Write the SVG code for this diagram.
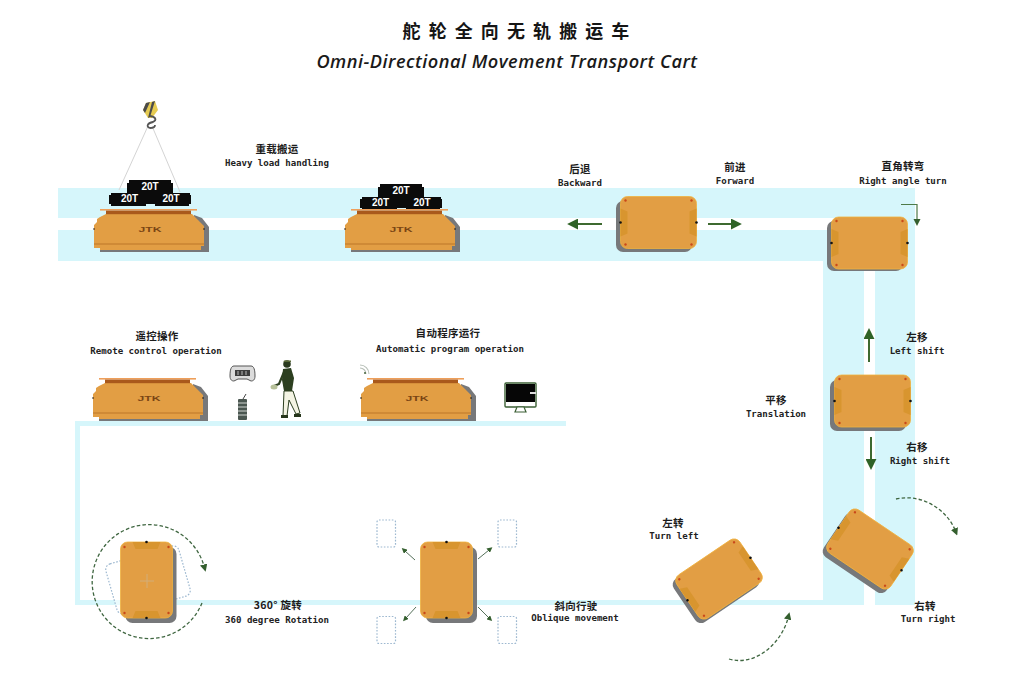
<svg xmlns="http://www.w3.org/2000/svg" xmlns:xlink="http://www.w3.org/1999/xlink" width="1024" height="683" viewBox="0 0 1024 683">
<style>
  .track { fill: #d6f6fb; }
  .cn { font-family: "Noto Sans CJK SC", sans-serif; font-size: 10.5px; font-weight: 700; fill: #1c1c1c; text-anchor: middle; letter-spacing: 0.3px; }
  .en { font-family: "DejaVu Sans Mono", monospace; font-size: 9.1px; font-weight: 700; fill: #222; text-anchor: middle; }
  .ton { font-family: "Liberation Sans", sans-serif; font-size: 10px; font-weight: 700; fill: #fff; text-anchor: middle; }
  .logo { font-family: "Liberation Sans", sans-serif; font-size: 7.5px; font-weight: 700; fill: #7a4514; text-anchor: middle; }
  .shadow { fill: #77787a; }
  .body { fill: #e29e44; stroke: #f0b23f; stroke-width: 0.8; }
  .pad { fill: #d8952f; }
  .stud { fill: #c9481a; }
  .pin { fill: #111; }
  .ghost { fill: #fff; fill-opacity: 0.5; stroke: #9db8d0; stroke-width: 1.2; stroke-dasharray: 1.6 1.6; }
  .push { stroke: #3e6a30; stroke-width: 2; fill: none; }
  .thin { stroke: #4e7a48; stroke-width: 1.2; fill: none; }
  .slant { stroke: #55705a; stroke-width: 1; fill: none; }
  .swing { stroke: #3f6640; stroke-width: 1.3; stroke-dasharray: 3.5 2.2; fill: none; }
  .title { font-family: "Noto Sans CJK SC", sans-serif; font-size: 18px; font-weight: 700; fill: #151515; text-anchor: middle; letter-spacing: 8.1px; }
  .subtitle { font-family: "Open Sans", sans-serif; font-size: 18.2px; font-weight: 600; font-style: italic; fill: #1a1a1a; text-anchor: middle; letter-spacing: 0.5px; }
</style>
<defs>
  <marker id="head-big" viewBox="0 0 10 10" refX="1" refY="5" markerUnits="userSpaceOnUse" markerWidth="11" markerHeight="11" orient="auto">
    <path d="M0 0L10 5L0 10Z" fill="#2f6226"/>
  </marker>
  <marker id="head-small" viewBox="0 0 10 10" refX="2" refY="5" markerUnits="userSpaceOnUse" markerWidth="7.5" markerHeight="7.5" orient="auto">
    <path d="M0 0L10 5L0 10Z" fill="#345f2e"/>
  </marker>
  <marker id="head-tiny" viewBox="0 0 10 10" refX="2" refY="5" markerUnits="userSpaceOnUse" markerWidth="5.5" markerHeight="5.5" orient="auto">
    <path d="M0 0L10 5L0 10Z" fill="#345f2e"/>
  </marker>

  <!-- cart seen from above, centred on the origin, long side horizontal -->
  <g id="cart-plan">
    <rect class="body" x="-38" y="-26" width="76" height="52" rx="7"/>
    <path class="pad" d="M-38 -14L-31 -11V11L-38 14Z"/>
    <path class="pad" d="M38 -14L31 -11V11L38 14Z"/>
    <circle class="stud" cx="-33" cy="-22" r="1.2"/>
    <circle class="stud" cx="33" cy="-22" r="1.2"/>
    <circle class="stud" cx="-33" cy="22" r="1.2"/>
    <circle class="stud" cx="33" cy="22" r="1.2"/>
    <circle class="pin" cx="-38" cy="0" r="1.3"/>
    <circle class="pin" cx="38" cy="0" r="1.3"/>
  </g>

  <!-- cart seen from the side, origin at the left end of the deck -->
  <g id="cart-side">
    <path class="shadow" d="M100 6L108 9L115 18V43H6V39H100Z"/>
    <path fill="#e29e44" d="M12 5H98L104 11L110 17V37H107V41H6V39H0V36H3V34H0V16L3 13V10L6 8Z"/>
    <rect x="0" y="34" width="110" height="2" fill="#cf8a36"/>
    <rect x="6" y="0" width="97" height="1.6" fill="#ee9f5a"/>
    <rect x="12" y="1.6" width="85" height="3.6" fill="#a9591c"/>
    <circle class="pin" cx="0" cy="20" r="0.8"/>
    <circle class="pin" cx="110" cy="20" r="0.8"/>
    <text class="logo" x="56" y="23" textLength="23" lengthAdjust="spacingAndGlyphs">JTK</text>
  </g>

  <!-- stacked 20 tonne load, origin at the top-left of the lower row -->
  <g id="load">
    <path fill="#0b0b0b" d="M20 0H62V3H64V13H81V15H82V24H80V26H46V24H37V26H2V24H0V15H2V13H18V3H20Z"/>
    <text class="ton" x="41" y="10">20T</text>
    <text class="ton" x="20.500" y="22">20T</text>
    <text class="ton" x="62" y="22">20T</text>
  </g>
</defs>

<rect width="1024" height="683" fill="#fff"/>

<!-- floor tracks -->
<g id="tracks">
  <rect class="track" x="58" y="188" width="857" height="30"/>
  <rect class="track" x="58" y="230" width="806" height="31"/>
  <rect class="track" x="823" y="230" width="41" height="375"/>
  <rect class="track" x="875" y="218" width="40" height="387"/>
  <rect class="track" x="75" y="600" width="750" height="5"/>
  <rect class="track" x="75" y="421" width="5" height="184"/>
  <rect class="track" x="75" y="421" width="491" height="5"/>
</g>

<!-- movement arrows and sweep arcs -->
<g id="connectors">
  <path class="push" d="M602 224H577" marker-end="url(#head-big)"/>
  <path class="push" d="M708 224H732" marker-end="url(#head-big)"/>
  <path class="thin" d="M901 204.500H917V220" marker-end="url(#head-small)"/>
  <path class="push" d="M869 362V338" marker-end="url(#head-big)"/>
  <path class="push" d="M871 437V460" marker-end="url(#head-big)"/>
  <path class="swing" d="M896 499C922 493 947 510 955 530" marker-end="url(#head-small)"/>
  <path class="swing" d="M729 659C756 667 782 642 788 618" marker-end="url(#head-small)"/>
  <path class="swing" d="M202 603A57 57 0 1 1 204 566" marker-end="url(#head-small)"/>
  <path class="slant" d="M415 560L405 551" marker-end="url(#head-tiny)"/>
  <path class="slant" d="M478 559L489 550" marker-end="url(#head-tiny)"/>
  <path class="slant" d="M416 607L406 618" marker-end="url(#head-tiny)"/>
  <path class="slant" d="M478 607L489 618" marker-end="url(#head-tiny)"/>
</g>

<g id="heavy-load-cart">
  <path d="M148 126L119 190M152 126L180 192" stroke="#d4d4d4" stroke-width="1" fill="none"/>
  <path d="M146 103L155 101L158 110L152 118L148 118L143 110Z" fill="#e6cb52"/>
  <path d="M146 103L150 102L145 113L143 110ZM152 102L155 101L150 117L148 118Z" fill="#4b4b4b"/>
  <path d="M150 116C156 117 157 120 153 122C147 123 146 127 150 128C153 128 155 127 155 125" stroke="#555" stroke-width="1.800" fill="none"/>
  <use href="#load" x="109" y="180"/>
  <use href="#cart-side" x="94" y="209"/>
  <text class="cn" x="277" y="153">重载搬运</text>
  <text class="en" x="277" y="166">Heavy load handling</text>
</g>

<g id="second-load-cart">
  <use href="#load" x="360" y="184"/>
  <use href="#cart-side" x="345" y="209"/>
</g>

<g id="drive-cart">
  <rect class="shadow" x="616" y="201" width="76" height="51" rx="7"/>
  <use href="#cart-plan" x="658.500" y="222.500"/>
  <text class="cn" x="580" y="173">后退</text>
  <text class="en" x="580" y="186">Backward</text>
  <text class="cn" x="735" y="171">前进</text>
  <text class="en" x="735" y="184">Forward</text>
</g>

<g id="corner-cart">
  <rect class="shadow" x="827" y="221" width="76" height="50" rx="7"/>
  <use href="#cart-plan" x="869.500" y="243"/>
  <text class="cn" x="903" y="170">直角转弯</text>
  <text class="en" x="903" y="184">Right angle turn</text>
</g>

<g id="shift-cart">
  <rect class="shadow" x="830" y="380" width="76" height="51" rx="7"/>
  <use href="#cart-plan" x="872.500" y="401"/>
  <text class="cn" x="917" y="341">左移</text>
  <text class="en" x="917" y="354">Left shift</text>
  <text class="cn" x="776" y="404">平移</text>
  <text class="en" x="776" y="417">Translation</text>
  <text class="cn" x="917" y="451">右移</text>
  <text class="en" x="920" y="464">Right shift</text>
</g>

<g id="turn-right-cart">
  <rect class="shadow" x="-38" y="-26" width="76" height="52" rx="7" transform="translate(866 553) rotate(34)"/>
  <use href="#cart-plan" transform="translate(870 549) rotate(34)"/>
  <text class="cn" x="925" y="610">右转</text>
  <text class="en" x="928" y="622">Turn right</text>
</g>

<g id="turn-left-cart">
  <rect class="shadow" x="-38" y="-26" width="76" height="52" rx="7" transform="translate(716 583) rotate(-34)"/>
  <use href="#cart-plan" transform="translate(719 579) rotate(-34)"/>
  <text class="cn" x="673" y="527">左转</text>
  <text class="en" x="674" y="539">Turn left</text>
</g>

<g id="rotation-cart">
  <rect class="ghost" x="-38" y="-26" width="76" height="52" rx="6" transform="translate(148 580) rotate(-16)"/>
  <rect class="shadow" x="125.500" y="547" width="51" height="76" rx="7"/>
  <use href="#cart-plan" transform="translate(146.500 580) rotate(90)"/>
  <path d="M147 574V588M140 581H154" stroke="#d2ad78" stroke-width="1"/>
  <text class="cn" x="278" y="609">360° 旋转</text>
  <text class="en" x="277" y="623">360 degree Rotation</text>
</g>

<g id="oblique-cart">
  <rect class="ghost" x="377" y="520" width="18.500" height="27" rx="2"/>
  <rect class="ghost" x="498" y="520" width="18.500" height="27" rx="2"/>
  <rect class="ghost" x="377" y="616.500" width="18.500" height="27" rx="2"/>
  <rect class="ghost" x="498" y="616.500" width="18.500" height="27" rx="2"/>
  <rect class="shadow" x="426" y="547" width="51" height="76" rx="7"/>
  <use href="#cart-plan" transform="translate(446.500 580) rotate(90)"/>
  <text class="cn" x="576" y="610">斜向行驶</text>
  <text class="en" x="575" y="621">Oblique movement</text>
</g>

<g id="remote-cart">
  <use href="#cart-side" x="93" y="378"/>
  <text class="cn" x="157" y="340">遥控操作</text>
  <text class="en" x="156" y="354">Remote control operation</text>
  <!-- handheld controller -->
  <path d="M234 366H251C254 366 255 370 255 376C255 380 253 381 251 381L247 379H238L234 381C232 381 230 380 230 376C230 370 231 366 234 366Z" fill="#dcdcdc" stroke="#555" stroke-width="1"/>
  <rect x="235" y="370" width="15" height="6" fill="#3d3d3d"/>
  <path d="M238 371V375M242 371V375M246 371V375" stroke="#bbb" stroke-width="1"/>
  <!-- receiver with aerial -->
  <rect x="238" y="399" width="9" height="21" rx="1" fill="#4a5650"/>
  <path d="M238 403H247M238 407H247M238 411H247M238 415H247" stroke="#cfd4d0" stroke-width="1"/>
  <path d="M243 399L246 394" stroke="#444" stroke-width="1"/>
  <!-- operator -->
  <circle cx="287" cy="364" r="3.800" fill="#2a3a1e"/>
  <path d="M283.500 362H291V360.500H284Z" fill="#5a6a38"/>
  <path d="M283 369L291 368L294 378L292 391L284 391L282 380Z" fill="#2c3f20"/>
  <path d="M284 372L279 384L274 386" stroke="#2c3f20" stroke-width="2.200" fill="none"/>
  <ellipse cx="274" cy="387" rx="3.500" ry="2.500" fill="#b7c19a"/>
  <path d="M284 391L293 391L300 413L296 414L289 400L287 416H283Z" fill="#f4f4e4" stroke="#2c3f20" stroke-width="1"/>
  <path d="M281 415H288V418H281ZM294 414H301V417H294Z" fill="#26351b"/>
</g>

<g id="program-cart">
  <use href="#cart-side" x="361" y="378"/>
  <text class="cn" x="448" y="337">自动程序运行</text>
  <text class="en" x="450" y="352">Automatic program operation</text>
  <!-- wireless mark -->
  <path d="M360 368A6 6 0 0 1 366 374M360 365A9 9 0 0 1 369 374" stroke="#b8c0b8" stroke-width="1.100" fill="none"/>
  <circle cx="365" cy="373" r="0.900" fill="#35552c"/>
  <!-- monitor -->
  <rect x="505" y="383" width="31" height="24" rx="1" fill="#fff" stroke="#3b5f34" stroke-width="1.400"/>
  <rect x="506" y="384" width="29" height="18" fill="#060606"/>
  <rect x="530" y="392" width="6" height="2" fill="#ddd"/>
  <path d="M517 407H524L526 412H515Z" fill="#fff" stroke="#3b5f34" stroke-width="1.200"/>
</g>

<g id="heading">
  <text class="title" x="520" y="38">舵轮全向无轨搬运车</text>
  <text class="subtitle" x="507" y="68">Omni-Directional Movement Transport Cart</text>
</g>
</svg>
